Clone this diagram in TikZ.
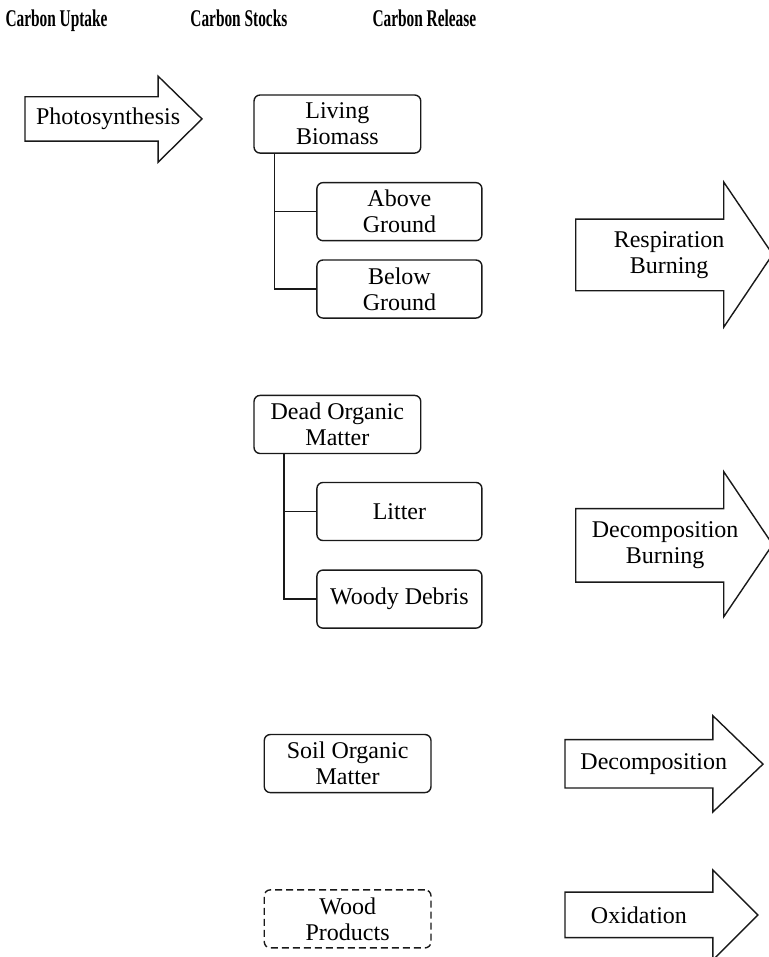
\documentclass[tikz,border=0pt]{standalone}
\usepackage{fontspec}
\setmainfont{Liberation Serif}
\newfontfamily\headfont[FakeStretch=0.64]{Liberation Serif}
\usetikzlibrary{positioning}

\begin{document}
\begin{tikzpicture}[
      every node/.style={font=\fontsize{12}{13}\selectfont},
      head/.style={font=\headfont\bfseries\fontsize{12}{13}\selectfont,anchor=base west,inner sep=0pt},
      stock/.style={draw=black!90,line width=0.7pt,rounded corners=3pt,minimum width=2.93cm,minimum height=1.02cm,align=center,inner sep=1pt},
      pool/.style={stock,minimum width=2.9cm,minimum height=1.02cm},
      hwp/.style={stock,dash pattern=on 3.5pt off 2pt},
      flow/.style={draw=black!90,line width=0.7pt,fill=white,line join=miter},
      tree/.style={draw=black!90,line width=0.7pt}
    ]
    \useasboundingbox (0,0) rectangle (13.5,-16.82);
    % column captions
    \node[head] (hup) at (0.09,-0.47) {Carbon Uptake};
    \node[head] (hst) at (3.34,-0.47) {Carbon Stocks};
    \node[head] (hre) at (6.54,-0.47) {Carbon Release};
    % uptake
    \draw[flow] (0.44,-1.70) -- (2.78,-1.70) -- (2.78,-1.34) -- (3.55,-2.09) -- (2.78,-2.85) -- (2.78,-2.48) -- (0.44,-2.48) -- cycle;
    \node (photo) at (1.90,-2.09) {Photosynthesis};
    % living biomass
    \node[stock] (lb) at (5.93,-2.18) {Living\\ Biomass};
    \node[pool] (ag) at (7.02,-3.72) {Above\\ Ground};
    \node[pool] (bg) at (7.02,-5.08) {Below\\ Ground};
    \coordinate (lbt) at ([xshift=3.7mm]lb.south west);
    \draw[tree] (lbt) |- (bg.west);
    \draw[tree] (ag.west) -- (ag.west -| lbt);
    % dead organic matter
    \node[stock] (dom) at (5.93,-7.46) {Dead Organic\\ Matter};
    \node[pool] (lit) at (7.02,-8.99) {Litter};
    \node[pool] (wd) at (7.02,-10.53) {Woody Debris};
    \coordinate (domt) at ([xshift=5.4mm]dom.south west);
    \draw[tree] (domt) |- (wd.west);
    \draw[tree] (lit.west) -- (lit.west -| domt);
    % soil and products
    \node[stock] (som) at (6.11,-13.42) {Soil Organic\\ Matter};
    \node[hwp] (wp) at (6.11,-16.15) {Wood\\ Products};
    % release
    \draw[flow] (10.12,-3.85) -- (12.72,-3.85) -- (12.72,-3.20) -- (13.58,-4.47) -- (12.72,-5.75) -- (12.72,-5.11) -- (10.12,-5.11) -- cycle;
    \node[align=center] (resp) at (11.76,-4.48) {Respiration\\ Burning};
    \draw[flow] (10.12,-8.94) -- (12.72,-8.94) -- (12.72,-8.29) -- (13.58,-9.57) -- (12.72,-10.84) -- (12.72,-10.23) -- (10.12,-10.23) -- cycle;
    \node[align=center] (decb) at (11.69,-9.58) {Decomposition\\ Burning};
    \draw[flow] (9.93,-13.00) -- (12.53,-13.00) -- (12.53,-12.58) -- (13.41,-13.43) -- (12.53,-14.27) -- (12.53,-13.85) -- (9.93,-13.85) -- cycle;
    \node (dec) at (11.49,-13.43) {Decomposition};
    \draw[flow] (9.93,-15.68) -- (12.53,-15.68) -- (12.53,-15.29) -- (13.32,-16.08) -- (12.53,-16.87) -- (12.53,-16.48) -- (9.93,-16.48) -- cycle;
    \node (oxi) at (11.23,-16.08) {Oxidation};
  \end{tikzpicture}
\end{document}
